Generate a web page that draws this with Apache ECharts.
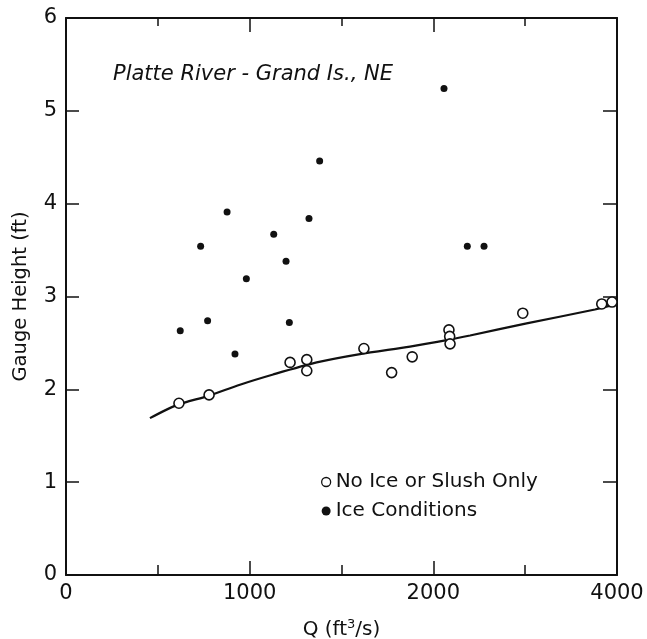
<!DOCTYPE html>
<html>
<head>
<meta charset="utf-8">
<script src="https://cdn.jsdelivr.net/npm/echarts@6/dist/echarts.min.js"></script>
<style>html,body{margin:0;padding:0;background:#fff;}#c{width:647px;height:639px;}</style>
</head>
<body>
<div id="c"></div>
<script>
// Axis tick values and the labels printed at them (the original prints "4000" at the last tick)
const xTickValues = [0, 1000, 2000, 3000];
const xTickLabels = ['0', '1000', '2000', '4000'];
const yTickLabels = ['0', '1', '2', '3', '4', '5', '6'];

// No Ice or Slush Only (open circles)
const noIceQ = [615, 779, 1220, 1311, 1311, 1622, 1773, 1885, 2085, 2089, 2091, 2487, 2917, 2973];
const noIceH = [1.85, 1.94, 2.29, 2.32, 2.20, 2.44, 2.18, 2.35, 2.64, 2.57, 2.49, 2.82, 2.92, 2.94];

// Ice Conditions (filled dots)
const iceQ = [622, 733, 771, 877, 920, 982, 1131, 1198, 1216, 1323, 1381, 2058, 2185, 2276];
const iceH = [2.63, 3.54, 2.74, 3.91, 2.38, 3.19, 3.67, 3.38, 2.72, 3.84, 4.46, 5.24, 3.54, 3.54];

// Rating curve
const curveQ = [457, 603, 775, 947, 1128, 1365, 1601, 1873, 2073, 2200, 2508, 2880, 3000];
const curveH = [1.69, 1.83, 1.93, 2.05, 2.16, 2.29, 2.38, 2.46, 2.53, 2.58, 2.71, 2.86, 2.92];

const zip = (a, b) => a.map((v, i) => [v, b[i]]);
const FONT = 'DejaVu Sans';
const INK = '#111';

const chart = echarts.init(document.getElementById('c'), null, {renderer: 'canvas'});
const axisCommon = {
  axisLine: {show: true, onZero: false, lineStyle: {color: INK, width: 2}},
  splitLine: {show: false}
};
chart.setOption({
  backgroundColor: '#fff',
  animation: false,
  grid: {left: 66, right: 30, top: 18, bottom: 64, containLabel: false, outerBoundsMode: 'none'},
  xAxis: [{
    ...axisCommon,
    type: 'value', min: 0, max: 3000, interval: 1000, position: 'bottom',
    axisTick: {show: true, inside: true, length: 14, lineStyle: {color: INK, width: 1.5}},
    minorTick: {show: true, splitNumber: 2, length: 10, lineStyle: {color: INK, width: 1.5}},
    axisLabel: {
      margin: 8, color: INK, fontFamily: FONT, fontSize: 21,
      formatter: v => { const i = xTickValues.indexOf(v); return i >= 0 ? xTickLabels[i] : ''; }
    },
    name: 'Q (ft{sup|3}/s)', nameLocation: 'middle', nameGap: 43,
    nameTextStyle: {color: INK, fontFamily: FONT, fontSize: 20,
      rich: {sup: {fontSize: 13, verticalAlign: 'top', padding: [0, 0, 10, 0], fontFamily: FONT, color: INK}}}
  }, {
    ...axisCommon,
    type: 'value', min: 0, max: 3000, interval: 1000, position: 'top',
    axisTick: {show: true, inside: true, length: 14, lineStyle: {color: INK, width: 1.5}},
    minorTick: {show: true, splitNumber: 2, length: 8, lineStyle: {color: INK, width: 1.5}},
    axisLabel: {show: false}
  }],
  yAxis: [{
    ...axisCommon,
    type: 'value', min: 0, max: 6, interval: 1, position: 'left',
    axisTick: {show: true, inside: true, length: 13, lineStyle: {color: INK, width: 1.5}},
    axisLabel: {margin: 9, color: INK, fontFamily: FONT, fontSize: 21,
      formatter: v => yTickLabels[Math.round(v)]},
    name: 'Gauge Height (ft)', nameLocation: 'middle', nameGap: 35, nameRotate: 90,
    nameTextStyle: {color: INK, fontFamily: FONT, fontSize: 19.5}
  }, {
    ...axisCommon,
    type: 'value', min: 0, max: 6, interval: 1, position: 'right',
    axisTick: {show: true, inside: true, length: 14, lineStyle: {color: INK, width: 1.5}},
    axisLabel: {show: false}
  }],
  legend: {
    orient: 'vertical', left: 316, top: 467, itemGap: 9,
    itemWidth: 9, itemHeight: 9,
    textStyle: {color: INK, fontFamily: FONT, fontSize: 20},
    data: [
      {name: 'No Ice or Slush Only', icon: 'circle', itemStyle: {color: '#fff', borderColor: INK, borderWidth: 1.3, opacity: 1}},
      {name: 'Ice Conditions', icon: 'circle', itemStyle: {color: INK, opacity: 1}}
    ]
  },
  graphic: [{
    type: 'text', left: 113, top: 64, silent: true,
    style: {text: 'Platte River - Grand Is., NE', fill: INK, font: 'italic 21px "DejaVu Sans"'}
  }],
  series: [{
    type: 'line', name: 'curve', data: zip(curveQ, curveH), smooth: 0.25,
    showSymbol: false, lineStyle: {color: INK, width: 2.2}, z: 2
  }, {
    type: 'scatter', name: 'No Ice or Slush Only', data: zip(noIceQ, noIceH),
    symbol: 'circle', symbolSize: 10,
    itemStyle: {color: '#fff', borderColor: INK, borderWidth: 1.6, opacity: 1}, z: 3
  }, {
    type: 'scatter', name: 'Ice Conditions', data: zip(iceQ, iceH),
    symbol: 'circle', symbolSize: 7, itemStyle: {color: INK, opacity: 1}, z: 3
  }]
});
</script>
</body>
</html>
